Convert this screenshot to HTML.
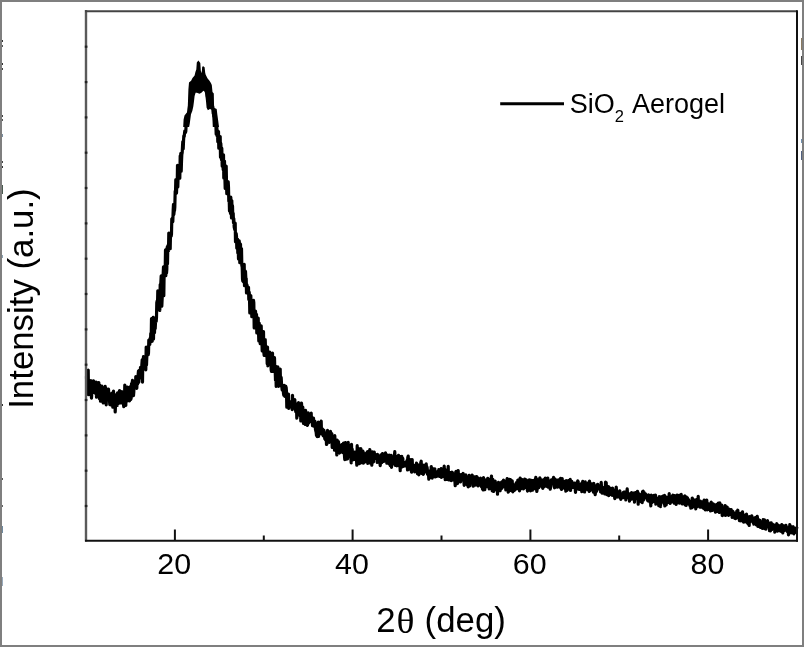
<!DOCTYPE html>
<html><head><meta charset="utf-8"><style>
html,body{margin:0;padding:0;background:#fff;}
body{width:804px;height:647px;overflow:hidden;position:relative;}
#frame{position:absolute;left:0;top:0;width:804px;height:647px;box-sizing:border-box;border:2px solid #7f7f7f;}
svg{position:absolute;left:0;top:0;filter:blur(0.3px);}
text{font-family:"Liberation Sans",sans-serif;fill:#000;}
</style></head><body>
<svg width="804" height="647" viewBox="0 0 804 647">
<path d="M183.2,127 L183.6,119.4 L184.5,115.5 L187.1,112.3 L187.8,106.4 L188.1,98 L188.4,89.5 L189,82.4 L191.1,80.8 L192.5,78.1 L194.6,75.4 L195.4,72.1 L196.3,69.4 L196.8,62.4 L198.4,60.5 L200.3,63 L200.8,70.5 L201.7,73.2 L202.2,66.7 L203.3,66.2 L204.6,67.3 L205.2,72.7 L205.7,74.8 L207.6,78.6 L209.5,80.8 L210.9,83 L211.8,85 L212.5,92.1 L213.8,93.4 L214.1,107.7 L216.7,109 L217.3,114.2 L218.3,121.4 L219,127 L212.8,127 L212.5,120.7 L212.1,114.2 L211.8,109.7 L209.9,109 L207.9,110.3 L206.6,107.7 L206,101.2 L205.3,94.7 L204.7,91.5 L203.4,90.8 L201.4,92.8 L199.5,93.8 L196.9,92.8 L195.6,92.8 L194.6,96 L194,101.2 L193.3,106.4 L192.3,111 L191,114.2 L190.4,118.8 L189.7,124 L189.1,127Z" fill="#000"/>
<polyline points="86.5,376.2 86.8,390.7 87.2,377.0 87.5,387.6 87.8,388.0 88.2,370.0 88.5,394.7 88.8,389.7 89.2,386.0 89.5,392.0 89.8,393.8 90.2,386.7 90.5,390.6 90.8,380.6 91.2,395.0 91.5,398.2 91.8,393.0 92.2,381.7 92.5,385.8 92.8,391.4 93.2,383.6 93.5,380.9 93.8,392.4 94.2,390.7 94.5,381.8 94.8,392.1 95.2,387.6 95.5,391.7 95.8,393.7 96.2,382.0 96.5,397.1 96.8,383.2 97.2,393.3 97.5,388.3 97.8,389.8 98.2,384.0 98.5,386.0 98.8,382.6 99.2,388.3 99.5,398.7 99.8,385.0 100.2,391.6 100.5,401.2 100.8,388.8 101.2,389.6 101.5,396.5 101.8,386.2 102.2,387.6 102.5,396.8 102.8,393.8 103.2,402.9 103.5,392.0 103.8,396.7 104.2,391.6 104.5,397.0 104.8,389.6 105.2,386.3 105.5,397.7 105.8,388.2 106.2,404.8 106.5,396.4 106.8,389.9 107.2,399.4 107.5,395.8 107.8,398.2 108.2,392.8 108.5,389.2 108.8,393.7 109.2,398.1 109.5,400.6 109.8,404.6 110.2,400.0 110.5,397.5 110.8,404.9 111.2,399.6 111.5,400.5 111.8,393.4 112.2,393.3 112.5,392.9 112.8,407.2 113.2,397.2 113.5,391.0 113.8,398.0 114.2,403.9 114.5,395.5 114.8,394.7 115.2,412.0 115.5,404.9 115.8,401.6 116.2,400.8 116.5,395.0 116.8,396.9 117.2,405.4 117.5,392.9 117.8,398.1 118.2,403.7 118.5,393.0 118.8,399.5 119.2,399.8 119.5,390.6 119.8,392.0 120.2,397.6 120.5,403.0 120.8,398.9 121.2,398.4 121.5,403.0 121.8,391.5 122.2,402.9 122.5,399.7 122.8,399.4 123.2,400.2 123.5,404.4 123.8,406.7 124.2,400.9 124.5,399.0 124.8,385.1 125.2,399.6 125.5,401.2 125.8,405.5 126.2,389.2 126.5,394.6 126.8,387.4 127.2,400.9 127.5,387.2 127.8,392.1 128.2,391.1 128.5,391.1 128.8,395.0 129.2,398.0 129.5,400.8 129.8,397.8 130.2,386.8 130.5,386.6 130.8,399.5 131.2,397.8 131.5,383.7 131.8,390.0 132.2,382.7 132.5,380.4 132.8,383.0 133.2,387.8 133.5,395.7 133.8,391.8 134.2,381.9 134.5,383.8 134.8,388.0 135.2,386.6 135.5,385.8 135.8,376.6 136.2,387.7 136.5,387.6 136.8,388.3 137.2,378.6 137.5,384.2 137.8,382.2 138.2,374.1 138.5,371.0 138.8,382.2 139.2,370.4 139.5,378.4 139.8,377.5 140.2,376.7 140.5,367.3 140.8,372.8 141.2,376.1 141.5,369.6 141.8,365.6 142.2,359.9 142.5,382.1 142.8,360.1 143.2,359.8 143.5,356.6 143.8,368.7 144.2,358.2 144.5,365.3 144.8,357.1 145.2,357.8 145.5,361.6 145.8,369.8 146.2,347.0 146.5,365.0 146.8,357.2 147.2,348.9 147.5,347.3 147.8,354.9 148.2,354.7 148.5,353.0 148.8,340.2 149.2,340.0 149.5,342.9 149.8,344.4 150.2,338.0 150.5,340.4 150.8,333.4 151.2,339.5 151.5,318.7 151.8,339.7 152.2,341.3 152.5,322.3 152.8,318.8 153.2,317.3 153.5,339.0 153.8,319.0 154.2,332.7 154.5,332.6 154.8,321.7 155.2,328.7 155.5,322.3 155.8,318.2 156.2,321.4 156.5,317.1 156.8,302.6 157.2,300.8 157.5,305.5 157.8,290.8 158.2,309.3 158.5,302.6 158.8,298.4 159.2,307.3 159.5,297.1 159.8,310.4 160.2,284.6 160.5,306.3 160.8,283.6 161.2,275.8 161.5,290.2 161.8,306.1 162.2,297.7 162.5,287.0 162.8,281.6 163.2,273.3 163.5,266.9 163.8,295.7 164.2,268.6 164.5,271.5 164.8,271.8 165.2,269.9 165.5,249.9 165.8,275.7 166.2,250.8 166.5,273.2 166.8,269.6 167.2,247.0 167.5,263.6 167.8,245.9 168.2,245.1 168.5,250.7 168.8,233.1 169.2,233.7 169.5,248.6 169.8,238.3 170.2,248.6 170.5,233.2 170.8,236.4 171.2,235.9 171.5,233.9 171.8,218.9 172.2,220.0 172.5,218.0 172.8,221.8 173.2,210.1 173.5,204.4 173.8,214.6 174.2,211.0 174.5,210.7 174.8,207.1 175.2,191.0 175.5,194.3 175.8,179.7 176.2,186.7 176.5,193.1 176.8,184.9 177.2,186.6 177.5,165.3 177.8,186.9 178.2,173.0 178.5,168.9 178.8,166.7 179.2,175.3 179.5,171.7 179.8,178.2 180.2,155.9 180.5,161.7 180.8,153.4 181.2,171.2 181.5,161.3 181.8,154.7 182.2,152.5 182.5,146.7 182.8,141.6 183.2,149.0 183.5,141.8 183.8,135.9 184.2,136.7 184.5,133.6 184.8,131.0 185.2,131.7 185.5,132.5 185.8,131.2 186.2,123.6 186.5,124.8 186.8,120.6 187.2,124.4 187.5,120.0 187.8,115.8 188.2,118.4 188.5,113.3 188.8,112.0 189.2,111.3 189.5,106.1 189.8,106.3 190.2,104.5 190.5,102.2 190.8,100.0 191.2,99.0 191.5,96.0 191.8,90.2 192.2,91.8 192.5,92.4 192.8,88.8 193.2,90.7 193.5,89.7 193.8,90.1 194.2,88.0 194.5,88.2 194.8,88.9 195.2,88.5 195.5,87.1 195.8,86.3 196.2,85.8 196.5,86.1 196.8,86.8 197.2,85.5 197.5,86.8 197.8,86.3 198.2,86.9 198.5,83.6 198.8,85.0 199.2,83.6 199.5,84.1 199.8,86.1 200.2,85.1 200.5,85.8 200.8,85.0 201.2,86.1 201.5,85.4 201.8,83.4 202.2,84.2 202.5,85.2 202.8,84.8 203.2,86.2 203.5,85.7 203.8,86.4 204.2,86.4 204.5,87.2 204.8,88.1 205.2,89.4 205.5,89.5 205.8,89.3 206.2,91.5 206.5,89.0 206.8,91.5 207.2,95.6 207.5,97.2 207.8,94.0 208.2,94.9 208.5,96.5 208.8,97.5 209.2,98.7 209.5,99.7 209.8,103.0 210.2,100.2 210.5,101.3 210.8,104.4 211.2,105.0 211.5,106.5 211.8,107.6 212.2,106.9 212.5,105.9 212.8,106.9 213.2,113.4 213.5,110.8 213.8,116.0 214.2,111.8 214.5,116.5 214.8,114.5 215.2,120.4 215.5,120.0 215.8,121.7 216.2,134.2 216.5,128.4 216.8,126.2 217.2,136.1 217.5,130.6 217.8,141.8 218.2,133.2 218.5,131.5 218.8,148.1 219.2,141.9 219.5,146.3 219.8,142.9 220.2,136.5 220.5,157.2 220.8,143.3 221.2,149.8 221.5,159.7 221.8,148.2 222.2,166.2 222.5,154.5 222.8,157.5 223.2,169.8 223.5,154.8 223.8,178.1 224.2,170.1 224.5,161.2 224.8,173.6 225.2,188.5 225.5,175.0 225.8,185.4 226.2,166.2 226.5,183.3 226.8,193.6 227.2,190.7 227.5,189.5 227.8,181.5 228.2,181.9 228.5,187.7 228.8,201.1 229.2,198.7 229.5,211.0 229.8,202.0 230.2,198.1 230.5,213.4 230.8,197.2 231.2,207.4 231.5,218.0 231.8,200.5 232.2,217.1 232.5,205.7 232.8,216.9 233.2,213.3 233.5,222.8 233.8,218.5 234.2,227.1 234.5,228.3 234.8,229.7 235.2,223.2 235.5,241.8 235.8,233.2 236.2,233.6 236.5,236.3 236.8,248.1 237.2,248.5 237.5,239.1 237.8,253.0 238.2,245.0 238.5,258.9 238.8,243.7 239.2,240.8 239.5,244.5 239.8,262.6 240.2,243.8 240.5,244.3 240.8,259.6 241.2,255.3 241.5,248.6 241.8,265.2 242.2,267.3 242.5,278.9 242.8,281.0 243.2,281.2 243.5,281.9 243.8,270.8 244.2,264.3 244.5,285.7 244.8,272.1 245.2,271.0 245.5,271.5 245.8,277.8 246.2,278.6 246.5,293.0 246.8,284.6 247.2,285.8 247.5,293.0 247.8,287.1 248.2,291.3 248.5,287.3 248.8,299.5 249.2,292.1 249.5,296.6 249.8,313.0 250.2,308.1 250.5,304.4 250.8,295.5 251.2,305.6 251.5,302.7 251.8,316.6 252.2,309.1 252.5,301.1 252.8,309.9 253.2,317.0 253.5,300.4 253.8,302.7 254.2,327.9 254.5,327.3 254.8,322.0 255.2,315.1 255.5,311.2 255.8,316.0 256.2,327.9 256.5,314.4 256.8,332.9 257.2,332.2 257.5,320.1 257.8,328.0 258.2,318.0 258.5,330.6 258.8,340.9 259.2,323.0 259.5,330.1 259.8,336.7 260.2,343.6 260.5,334.5 260.8,341.8 261.2,325.8 261.5,338.6 261.8,336.9 262.2,350.9 262.5,346.4 262.8,346.0 263.2,335.9 263.5,331.7 263.8,352.0 264.2,355.5 264.5,345.2 264.8,340.2 265.2,339.6 265.5,348.2 265.8,355.6 266.2,346.5 266.5,351.6 266.8,348.8 267.2,363.7 267.5,347.0 267.8,365.8 268.2,359.8 268.5,360.3 268.8,362.5 269.2,360.1 269.5,363.1 269.8,352.0 270.2,360.4 270.5,364.4 270.8,361.5 271.2,369.9 271.5,371.5 271.8,367.4 272.2,365.0 272.5,353.1 272.8,369.9 273.2,371.4 273.5,370.2 273.8,366.6 274.2,365.0 274.5,357.7 274.8,369.3 275.2,370.5 275.5,380.3 275.8,366.4 276.2,386.4 276.5,383.9 276.8,381.4 277.2,367.9 277.5,375.1 277.8,366.9 278.2,371.1 278.5,386.3 278.8,376.9 279.2,385.8 279.5,382.5 279.8,376.7 280.2,369.0 280.5,384.4 280.8,376.7 281.2,377.8 281.5,383.5 281.8,386.3 282.2,390.1 282.5,389.7 282.8,389.2 283.2,388.9 283.5,393.5 283.8,395.3 284.2,385.3 284.5,388.5 284.8,396.3 285.2,395.3 285.5,389.2 285.8,386.4 286.2,387.8 286.5,391.8 286.8,407.2 287.2,401.9 287.5,397.5 287.8,401.2 288.2,400.6 288.5,394.2 288.8,408.5 289.2,401.7 289.5,403.4 289.8,402.0 290.2,401.9 290.5,404.2 290.8,404.9 291.2,403.1 291.5,404.6 291.8,403.7 292.2,409.7 292.5,395.3 292.8,404.8 293.2,401.9 293.5,402.5 293.8,407.6 294.2,406.0 294.5,408.2 294.8,399.7 295.2,407.8 295.5,409.6 295.8,411.9 296.2,405.1 296.5,404.1 296.8,418.2 297.2,412.6 297.5,407.1 297.8,406.2 298.2,411.9 298.5,402.7 298.8,410.6 299.2,414.8 299.5,411.7 299.8,407.2 300.2,416.1 300.5,407.1 300.8,420.9 301.2,406.5 301.5,403.1 301.8,407.8 302.2,417.5 302.5,415.2 302.8,407.1 303.2,413.3 303.5,423.4 303.8,415.8 304.2,412.3 304.5,412.2 304.8,413.9 305.2,424.4 305.5,410.4 305.8,412.0 306.2,415.2 306.5,424.2 306.8,422.0 307.2,425.3 307.5,425.1 307.8,420.2 308.2,412.8 308.5,423.1 308.8,421.8 309.2,415.3 309.5,419.8 309.8,416.0 310.2,419.2 310.5,419.7 310.8,419.1 311.2,413.0 311.5,422.0 311.8,421.5 312.2,420.0 312.5,425.6 312.8,424.2 313.2,421.7 313.5,418.1 313.8,426.2 314.2,422.8 314.5,423.2 314.8,421.0 315.2,424.8 315.5,429.7 315.8,430.8 316.2,432.5 316.5,435.5 316.8,431.5 317.2,436.6 317.5,431.0 317.8,430.8 318.2,422.0 318.5,436.5 318.8,433.9 319.2,426.5 319.5,429.6 319.8,422.3 320.2,430.0 320.5,431.1 320.8,426.2 321.2,421.2 321.5,433.9 321.8,428.8 322.2,428.8 322.5,429.0 322.8,429.8 323.2,435.9 323.5,434.2 323.8,430.0 324.2,434.4 324.5,435.3 324.8,438.8 325.2,437.6 325.5,439.9 325.8,433.2 326.2,435.1 326.5,444.5 326.8,444.1 327.2,435.3 327.5,430.3 327.8,438.5 328.2,438.7 328.5,432.9 328.8,432.4 329.2,442.3 329.5,441.7 329.8,441.2 330.2,441.2 330.5,431.4 330.8,435.5 331.2,437.0 331.5,441.5 331.8,433.6 332.2,447.4 332.5,436.9 332.8,439.5 333.2,446.9 333.5,438.7 333.8,443.2 334.2,439.7 334.5,450.1 334.8,435.7 335.2,446.2 335.5,444.8 335.8,444.5 336.2,443.2 336.5,446.9 336.8,454.9 337.2,440.1 337.5,450.4 337.8,446.4 338.2,447.8 338.5,441.7 338.8,449.0 339.2,453.2 339.5,452.9 339.8,452.7 340.2,446.3 340.5,449.6 340.8,452.0 341.2,451.2 341.5,445.9 341.8,444.5 342.2,450.1 342.5,450.7 342.8,452.6 343.2,450.2 343.5,443.1 343.8,444.7 344.2,447.2 344.5,456.0 344.8,459.6 345.2,445.4 345.5,442.5 345.8,448.7 346.2,459.0 346.5,459.1 346.8,444.1 347.2,456.6 347.5,458.8 347.8,454.2 348.2,442.3 348.5,456.3 348.8,450.0 349.2,445.9 349.5,452.4 349.8,447.5 350.2,450.9 350.5,455.4 350.8,457.2 351.2,462.9 351.5,444.3 351.8,454.5 352.2,449.1 352.5,456.2 352.8,456.3 353.2,455.9 353.5,454.5 353.8,459.6 354.2,456.3 354.5,456.7 354.8,452.1 355.2,456.5 355.5,457.8 355.8,458.1 356.2,460.3 356.5,459.9 356.8,465.1 357.2,445.7 357.5,452.4 357.8,459.0 358.2,448.1 358.5,453.3 358.8,454.0 359.2,459.1 359.5,463.7 359.8,452.3 360.2,457.5 360.5,453.2 360.8,448.5 361.2,453.3 361.5,462.6 361.8,454.7 362.2,452.7 362.5,455.8 362.8,451.0 363.2,452.0 363.5,463.2 363.8,460.3 364.2,458.0 364.5,453.6 364.8,460.6 365.2,461.2 365.5,460.3 365.8,461.8 366.2,459.1 366.5,457.6 366.8,452.7 367.2,460.4 367.5,451.5 367.8,463.5 368.2,457.8 368.5,456.4 368.8,458.2 369.2,458.8 369.5,453.8 369.8,449.6 370.2,457.5 370.5,463.1 370.8,457.8 371.2,455.1 371.5,455.3 371.8,465.2 372.2,451.9 372.5,453.7 372.8,462.3 373.2,455.2 373.5,462.0 373.8,453.9 374.2,452.0 374.5,455.2 374.8,453.8 375.2,455.2 375.5,456.5 375.8,454.8 376.2,456.1 376.5,459.0 376.8,456.0 377.2,462.4 377.5,454.4 377.8,458.7 378.2,458.8 378.5,461.8 378.8,461.8 379.2,456.6 379.5,460.2 379.8,461.6 380.2,465.6 380.5,460.8 380.8,454.9 381.2,454.9 381.5,458.5 381.8,462.6 382.2,457.6 382.5,453.6 382.8,455.0 383.2,455.0 383.5,461.4 383.8,460.5 384.2,458.0 384.5,459.0 384.8,460.0 385.2,458.1 385.5,452.9 385.8,461.3 386.2,460.2 386.5,454.7 386.8,463.1 387.2,459.6 387.5,458.5 387.8,455.4 388.2,458.8 388.5,461.1 388.8,463.7 389.2,455.1 389.5,460.0 389.8,462.8 390.2,465.6 390.5,456.9 390.8,459.3 391.2,455.3 391.5,467.3 391.8,464.2 392.2,456.9 392.5,463.5 392.8,458.7 393.2,458.0 393.5,456.8 393.8,463.6 394.2,459.7 394.5,454.8 394.8,451.7 395.2,465.3 395.5,464.6 395.8,464.7 396.2,464.4 396.5,456.7 396.8,465.8 397.2,459.1 397.5,462.0 397.8,459.5 398.2,456.4 398.5,455.3 398.8,464.1 399.2,465.8 399.5,465.6 399.8,460.5 400.2,470.7 400.5,456.7 400.8,458.1 401.2,467.4 401.5,461.1 401.8,456.3 402.2,466.8 402.5,463.3 402.8,458.4 403.2,466.5 403.5,466.0 403.8,464.7 404.2,466.0 404.5,463.5 404.8,465.1 405.2,462.5 405.5,466.0 405.8,462.3 406.2,464.7 406.5,461.7 406.8,463.3 407.2,460.1 407.5,470.0 407.8,457.5 408.2,456.1 408.5,462.1 408.8,469.3 409.2,466.4 409.5,463.6 409.8,461.7 410.2,463.2 410.5,468.6 410.8,459.6 411.2,469.4 411.5,472.2 411.8,471.8 412.2,459.5 412.5,468.2 412.8,471.0 413.2,467.3 413.5,465.1 413.8,470.2 414.2,469.2 414.5,470.4 414.8,471.8 415.2,465.8 415.5,471.1 415.8,468.3 416.2,466.6 416.5,463.1 416.8,465.5 417.2,464.4 417.5,473.7 417.8,471.7 418.2,466.5 418.5,465.1 418.8,474.8 419.2,468.2 419.5,471.1 419.8,465.4 420.2,465.1 420.5,467.5 420.8,462.4 421.2,461.2 421.5,473.3 421.8,466.1 422.2,470.3 422.5,464.8 422.8,465.3 423.2,474.3 423.5,473.9 423.8,466.1 424.2,465.9 424.5,470.5 424.8,465.1 425.2,470.7 425.5,466.2 425.8,471.9 426.2,463.8 426.5,469.4 426.8,466.7 427.2,468.0 427.5,474.1 427.8,472.8 428.2,473.6 428.5,473.6 428.8,479.1 429.2,477.2 429.5,473.3 429.8,470.8 430.2,473.7 430.5,477.4 430.8,477.1 431.2,466.5 431.5,468.6 431.8,473.5 432.2,478.2 432.5,471.7 432.8,468.6 433.2,470.9 433.5,471.9 433.8,472.5 434.2,475.7 434.5,469.4 434.8,468.9 435.2,476.9 435.5,475.0 435.8,475.3 436.2,473.8 436.5,474.0 436.8,476.4 437.2,474.6 437.5,473.1 437.8,471.5 438.2,471.3 438.5,473.4 438.8,469.6 439.2,471.6 439.5,476.3 439.8,475.0 440.2,472.9 440.5,474.0 440.8,471.3 441.2,468.7 441.5,477.4 441.8,475.2 442.2,473.0 442.5,475.0 442.8,476.5 443.2,476.3 443.5,470.8 443.8,472.4 444.2,466.2 444.5,474.0 444.8,470.0 445.2,479.6 445.5,472.0 445.8,471.4 446.2,470.2 446.5,472.4 446.8,472.5 447.2,479.5 447.5,477.6 447.8,474.4 448.2,466.3 448.5,477.8 448.8,479.9 449.2,477.1 449.5,479.9 449.8,472.4 450.2,475.4 450.5,478.0 450.8,475.3 451.2,480.6 451.5,473.7 451.8,474.3 452.2,472.2 452.5,478.4 452.8,479.9 453.2,478.3 453.5,475.0 453.8,476.7 454.2,474.0 454.5,477.1 454.8,479.0 455.2,485.7 455.5,483.4 455.8,471.7 456.2,471.4 456.5,481.6 456.8,475.2 457.2,483.4 457.5,483.5 457.8,474.9 458.2,470.6 458.5,477.6 458.8,480.1 459.2,481.6 459.5,474.4 459.8,478.8 460.2,480.3 460.5,481.9 460.8,475.0 461.2,479.7 461.5,479.9 461.8,474.3 462.2,475.3 462.5,477.9 462.8,475.1 463.2,473.5 463.5,479.7 463.8,480.6 464.2,485.3 464.5,476.1 464.8,477.7 465.2,483.8 465.5,480.4 465.8,474.9 466.2,484.1 466.5,478.9 466.8,479.0 467.2,482.6 467.5,485.4 467.8,481.3 468.2,486.9 468.5,481.8 468.8,477.1 469.2,475.3 469.5,482.3 469.8,485.9 470.2,478.7 470.5,482.8 470.8,476.5 471.2,477.1 471.5,478.9 471.8,479.5 472.2,475.2 472.5,477.8 472.8,477.1 473.2,486.2 473.5,477.2 473.8,478.3 474.2,479.7 474.5,479.6 474.8,476.8 475.2,485.2 475.5,479.6 475.8,483.6 476.2,476.5 476.5,485.0 476.8,476.5 477.2,481.2 477.5,477.7 477.8,481.4 478.2,486.0 478.5,480.8 478.8,483.7 479.2,482.5 479.5,482.3 479.8,481.5 480.2,485.0 480.5,478.0 480.8,480.4 481.2,478.9 481.5,486.6 481.8,483.5 482.2,485.4 482.5,489.1 482.8,481.1 483.2,490.0 483.5,477.6 483.8,485.4 484.2,481.3 484.5,488.1 484.8,489.7 485.2,483.5 485.5,485.9 485.8,481.9 486.2,479.8 486.5,479.9 486.8,484.7 487.2,486.6 487.5,480.5 487.8,478.3 488.2,485.8 488.5,479.4 488.8,479.6 489.2,488.9 489.5,484.6 489.8,483.9 490.2,486.4 490.5,482.3 490.8,484.7 491.2,478.5 491.5,476.0 491.8,485.6 492.2,491.0 492.5,481.6 492.8,479.3 493.2,486.5 493.5,491.5 493.8,491.2 494.2,484.4 494.5,486.2 494.8,490.0 495.2,481.0 495.5,486.7 495.8,488.2 496.2,488.2 496.5,483.5 496.8,483.8 497.2,483.9 497.5,494.1 497.8,484.0 498.2,484.7 498.5,482.4 498.8,488.4 499.2,489.3 499.5,483.1 499.8,489.9 500.2,490.7 500.5,484.2 500.8,485.1 501.2,488.0 501.5,482.1 501.8,488.5 502.2,481.7 502.5,484.8 502.8,482.5 503.2,487.0 503.5,480.0 503.8,486.5 504.2,484.7 504.5,481.8 504.8,484.2 505.2,486.0 505.5,481.2 505.8,490.0 506.2,481.5 506.5,487.8 506.8,480.6 507.2,478.5 507.5,481.2 507.8,485.3 508.2,492.2 508.5,487.1 508.8,491.5 509.2,483.1 509.5,479.4 509.8,481.2 510.2,485.4 510.5,479.5 510.8,482.7 511.2,490.5 511.5,484.9 511.8,488.5 512.2,480.8 512.5,487.5 512.8,491.9 513.2,485.3 513.5,484.7 513.8,487.8 514.2,487.1 514.5,490.3 514.8,489.0 515.2,488.6 515.5,484.9 515.8,485.2 516.2,482.9 516.5,489.0 516.8,485.2 517.2,484.5 517.5,485.3 517.8,480.0 518.2,487.0 518.5,486.9 518.8,484.9 519.2,479.9 519.5,490.8 519.8,480.7 520.2,478.0 520.5,486.1 520.8,488.9 521.2,485.9 521.5,485.7 521.8,483.0 522.2,479.5 522.5,481.0 522.8,481.2 523.2,484.0 523.5,489.0 523.8,483.0 524.2,488.0 524.5,481.6 524.8,479.0 525.2,481.9 525.5,482.5 525.8,487.3 526.2,479.8 526.5,487.3 526.8,487.2 527.2,488.9 527.5,491.1 527.8,490.5 528.2,482.3 528.5,485.7 528.8,488.9 529.2,479.8 529.5,480.8 529.8,480.4 530.2,482.2 530.5,490.8 530.8,480.1 531.2,483.7 531.5,482.2 531.8,486.3 532.2,480.6 532.5,490.2 532.8,480.5 533.2,489.0 533.5,486.2 533.8,480.3 534.2,485.0 534.5,483.4 534.8,486.1 535.2,488.8 535.5,479.8 535.8,477.4 536.2,483.0 536.5,478.9 536.8,491.5 537.2,489.0 537.5,483.2 537.8,486.6 538.2,482.6 538.5,485.4 538.8,487.7 539.2,479.3 539.5,486.0 539.8,477.8 540.2,478.8 540.5,479.9 540.8,485.0 541.2,479.9 541.5,481.9 541.8,484.0 542.2,487.3 542.5,484.6 542.8,488.5 543.2,479.8 543.5,481.4 543.8,483.1 544.2,486.6 544.5,480.5 544.8,484.2 545.2,478.0 545.5,484.6 545.8,483.8 546.2,482.2 546.5,483.5 546.8,486.3 547.2,481.5 547.5,480.1 547.8,478.1 548.2,487.2 548.5,486.3 548.8,483.9 549.2,486.6 549.5,483.5 549.8,481.0 550.2,489.1 550.5,487.9 550.8,485.5 551.2,483.1 551.5,479.9 551.8,480.7 552.2,483.3 552.5,480.9 552.8,482.4 553.2,482.2 553.5,477.3 553.8,478.4 554.2,486.2 554.5,487.8 554.8,483.0 555.2,479.2 555.5,486.4 555.8,483.4 556.2,483.5 556.5,483.7 556.8,485.5 557.2,487.1 557.5,481.5 557.8,480.1 558.2,480.0 558.5,483.2 558.8,485.4 559.2,486.0 559.5,482.6 559.8,487.2 560.2,485.6 560.5,478.4 560.8,480.5 561.2,488.5 561.5,489.4 561.8,487.6 562.2,478.6 562.5,487.8 562.8,486.5 563.2,483.4 563.5,486.0 563.8,482.5 564.2,488.2 564.5,482.8 564.8,481.5 565.2,485.5 565.5,485.3 565.8,491.2 566.2,480.7 566.5,489.6 566.8,484.5 567.2,490.3 567.5,489.8 567.8,487.8 568.2,480.6 568.5,484.2 568.8,485.6 569.2,482.0 569.5,486.5 569.8,486.5 570.2,479.4 570.5,490.4 570.8,488.4 571.2,487.3 571.5,487.8 571.8,481.4 572.2,486.2 572.5,485.3 572.8,483.0 573.2,484.8 573.5,485.6 573.8,487.5 574.2,485.6 574.5,483.1 574.8,487.5 575.2,488.6 575.5,492.4 575.8,485.9 576.2,488.3 576.5,485.3 576.8,482.8 577.2,488.8 577.5,481.7 577.8,481.0 578.2,481.7 578.5,489.1 578.8,485.8 579.2,489.5 579.5,488.0 579.8,488.3 580.2,487.4 580.5,486.4 580.8,485.6 581.2,483.9 581.5,484.2 581.8,491.6 582.2,482.5 582.5,483.5 582.8,481.3 583.2,487.7 583.5,485.1 583.8,484.3 584.2,484.5 584.5,492.0 584.8,490.8 585.2,481.8 585.5,483.8 585.8,484.0 586.2,486.3 586.5,486.3 586.8,487.7 587.2,484.4 587.5,483.7 587.8,489.7 588.2,483.3 588.5,482.8 588.8,489.7 589.2,491.4 589.5,481.1 589.8,489.4 590.2,490.6 590.5,487.1 590.8,484.0 591.2,487.4 591.5,487.0 591.8,483.8 592.2,485.2 592.5,484.5 592.8,487.3 593.2,490.5 593.5,492.2 593.8,483.3 594.2,489.1 594.5,485.7 594.8,492.6 595.2,494.6 595.5,491.8 595.8,486.9 596.2,488.1 596.5,491.3 596.8,486.6 597.2,484.8 597.5,487.8 597.8,484.3 598.2,488.0 598.5,486.2 598.8,486.4 599.2,486.8 599.5,487.5 599.8,489.7 600.2,489.7 600.5,491.9 600.8,489.6 601.2,482.4 601.5,486.8 601.8,490.0 602.2,493.2 602.5,492.3 602.8,487.6 603.2,488.2 603.5,490.1 603.8,487.7 604.2,491.6 604.5,490.5 604.8,494.0 605.2,488.8 605.5,482.2 605.8,491.7 606.2,482.6 606.5,490.0 606.8,494.6 607.2,494.1 607.5,489.8 607.8,492.2 608.2,491.8 608.5,486.6 608.8,495.6 609.2,488.7 609.5,487.7 609.8,488.9 610.2,488.2 610.5,488.3 610.8,494.3 611.2,492.8 611.5,491.8 611.8,490.0 612.2,495.4 612.5,488.0 612.8,491.3 613.2,489.7 613.5,490.5 613.8,493.8 614.2,493.0 614.5,495.6 614.8,498.7 615.2,492.8 615.5,496.2 615.8,496.0 616.2,487.0 616.5,490.5 616.8,495.9 617.2,497.1 617.5,496.6 617.8,492.4 618.2,492.0 618.5,494.1 618.8,491.6 619.2,496.7 619.5,494.1 619.8,490.9 620.2,498.2 620.5,495.0 620.8,499.5 621.2,494.2 621.5,495.0 621.8,496.8 622.2,496.7 622.5,494.1 622.8,494.4 623.2,492.5 623.5,497.6 623.8,492.0 624.2,495.2 624.5,492.2 624.8,495.9 625.2,493.9 625.5,492.0 625.8,499.9 626.2,497.7 626.5,496.3 626.8,493.1 627.2,488.9 627.5,493.9 627.8,497.5 628.2,496.5 628.5,495.7 628.8,495.6 629.2,493.9 629.5,501.1 629.8,494.0 630.2,495.5 630.5,499.0 630.8,493.5 631.2,497.3 631.5,492.5 631.8,499.1 632.2,493.7 632.5,496.9 632.8,497.8 633.2,494.7 633.5,493.1 633.8,497.8 634.2,495.8 634.5,502.1 634.8,496.4 635.2,495.3 635.5,492.5 635.8,497.8 636.2,497.4 636.5,498.6 636.8,494.3 637.2,495.9 637.5,491.4 637.8,492.5 638.2,504.2 638.5,493.3 638.8,496.3 639.2,501.1 639.5,494.0 639.8,498.5 640.2,499.1 640.5,498.1 640.8,496.6 641.2,501.8 641.5,495.6 641.8,498.7 642.2,502.6 642.5,491.7 642.8,497.9 643.2,491.2 643.5,500.1 643.8,495.7 644.2,492.5 644.5,496.2 644.8,493.7 645.2,497.6 645.5,493.8 645.8,497.6 646.2,497.1 646.5,498.1 646.8,495.4 647.2,499.7 647.5,499.9 647.8,500.8 648.2,495.1 648.5,496.3 648.8,495.0 649.2,496.4 649.5,501.4 649.8,496.7 650.2,502.7 650.5,500.9 650.8,505.9 651.2,495.2 651.5,501.1 651.8,502.6 652.2,495.6 652.5,495.8 652.8,501.4 653.2,501.7 653.5,501.5 653.8,500.0 654.2,495.4 654.5,497.9 654.8,496.4 655.2,501.7 655.5,495.1 655.8,504.1 656.2,497.9 656.5,500.9 656.8,501.5 657.2,503.0 657.5,503.5 657.8,499.3 658.2,502.5 658.5,503.5 658.8,505.7 659.2,496.7 659.5,502.9 659.8,506.0 660.2,502.9 660.5,506.7 660.8,496.9 661.2,500.5 661.5,501.8 661.8,498.9 662.2,501.5 662.5,501.1 662.8,496.2 663.2,500.6 663.5,500.3 663.8,502.9 664.2,503.6 664.5,495.4 664.8,506.0 665.2,504.8 665.5,503.5 665.8,501.5 666.2,504.9 666.5,497.0 666.8,500.2 667.2,500.0 667.5,502.6 667.8,498.7 668.2,500.4 668.5,498.5 668.8,500.8 669.2,493.6 669.5,501.0 669.8,498.6 670.2,503.5 670.5,499.5 670.8,500.7 671.2,501.1 671.5,499.6 671.8,501.9 672.2,497.1 672.5,495.7 672.8,495.2 673.2,500.6 673.5,499.9 673.8,496.9 674.2,503.1 674.5,498.4 674.8,495.5 675.2,500.9 675.5,499.0 675.8,499.5 676.2,504.5 676.5,498.3 676.8,499.0 677.2,495.2 677.5,500.8 677.8,498.0 678.2,502.4 678.5,495.8 678.8,496.5 679.2,495.3 679.5,503.2 679.8,497.4 680.2,499.0 680.5,502.6 680.8,501.4 681.2,494.4 681.5,502.5 681.8,502.9 682.2,503.9 682.5,496.5 682.8,498.0 683.2,501.9 683.5,503.0 683.8,500.4 684.2,503.7 684.5,502.9 684.8,495.8 685.2,504.9 685.5,502.1 685.8,503.4 686.2,505.5 686.5,497.1 686.8,497.8 687.2,504.0 687.5,497.8 687.8,500.6 688.2,501.6 688.5,499.5 688.8,501.7 689.2,504.5 689.5,503.9 689.8,503.8 690.2,506.5 690.5,501.9 690.8,508.1 691.2,500.9 691.5,501.5 691.8,508.0 692.2,498.0 692.5,499.2 692.8,499.2 693.2,507.0 693.5,500.8 693.8,500.2 694.2,502.5 694.5,500.0 694.8,504.9 695.2,500.5 695.5,502.6 695.8,508.8 696.2,506.7 696.5,502.3 696.8,499.4 697.2,506.5 697.5,505.4 697.8,506.3 698.2,496.4 698.5,505.6 698.8,501.8 699.2,506.4 699.5,504.4 699.8,507.2 700.2,507.0 700.5,501.2 700.8,503.5 701.2,507.1 701.5,504.3 701.8,503.8 702.2,505.1 702.5,507.3 702.8,504.0 703.2,501.7 703.5,508.3 703.8,503.8 704.2,500.0 704.5,503.0 704.8,503.9 705.2,509.8 705.5,509.1 705.8,502.3 706.2,500.8 706.5,504.0 706.8,500.2 707.2,509.8 707.5,505.7 707.8,508.3 708.2,503.6 708.5,509.5 708.8,508.9 709.2,504.5 709.5,505.4 709.8,508.8 710.2,503.9 710.5,510.9 710.8,509.4 711.2,502.2 711.5,508.5 711.8,508.5 712.2,505.0 712.5,510.5 712.8,506.2 713.2,505.1 713.5,504.0 713.8,506.0 714.2,505.9 714.5,505.8 714.8,509.3 715.2,510.4 715.5,512.1 715.8,506.8 716.2,507.7 716.5,504.5 716.8,506.9 717.2,507.5 717.5,511.3 717.8,511.1 718.2,503.0 718.5,503.0 718.8,510.6 719.2,512.5 719.5,509.7 719.8,502.8 720.2,507.9 720.5,506.2 720.8,507.9 721.2,511.3 721.5,510.3 721.8,505.2 722.2,515.5 722.5,515.6 722.8,509.2 723.2,514.1 723.5,508.1 723.8,509.0 724.2,510.7 724.5,512.0 724.8,510.6 725.2,505.5 725.5,515.5 725.8,513.1 726.2,512.0 726.5,511.4 726.8,513.1 727.2,507.1 727.5,513.1 727.8,513.9 728.2,512.6 728.5,515.3 728.8,514.6 729.2,509.8 729.5,509.3 729.8,514.5 730.2,512.2 730.5,511.2 730.8,512.5 731.2,509.7 731.5,514.5 731.8,512.7 732.2,517.5 732.5,511.8 732.8,511.3 733.2,514.9 733.5,512.5 733.8,513.3 734.2,515.5 734.5,514.7 734.8,518.4 735.2,515.1 735.5,518.7 735.8,518.1 736.2,513.0 736.5,516.4 736.8,511.0 737.2,513.0 737.5,511.3 737.8,510.2 738.2,514.2 738.5,517.3 738.8,518.5 739.2,519.2 739.5,520.7 739.8,516.1 740.2,520.2 740.5,513.3 740.8,520.8 741.2,515.2 741.5,516.0 741.8,518.8 742.2,512.9 742.5,511.8 742.8,516.3 743.2,519.1 743.5,522.1 743.8,519.7 744.2,519.7 744.5,521.6 744.8,515.0 745.2,521.8 745.5,519.5 745.8,515.7 746.2,521.1 746.5,514.2 746.8,520.3 747.2,518.9 747.5,523.2 747.8,517.4 748.2,524.0 748.5,519.8 748.8,516.9 749.2,525.5 749.5,516.6 749.8,517.6 750.2,521.7 750.5,516.9 750.8,520.0 751.2,519.6 751.5,517.6 751.8,515.8 752.2,519.5 752.5,521.0 752.8,518.8 753.2,522.8 753.5,518.2 753.8,524.1 754.2,520.2 754.5,518.6 754.8,523.1 755.2,522.1 755.5,517.6 755.8,522.6 756.2,524.8 756.5,524.1 756.8,517.5 757.2,516.3 757.5,518.4 757.8,526.3 758.2,519.4 758.5,522.9 758.8,521.4 759.2,526.6 759.5,523.3 759.8,520.4 760.2,521.8 760.5,527.5 760.8,521.8 761.2,524.5 761.5,524.5 761.8,526.7 762.2,522.3 762.5,528.3 762.8,524.8 763.2,519.6 763.5,524.9 763.8,525.7 764.2,525.3 764.5,519.8 764.8,528.7 765.2,523.8 765.5,525.3 765.8,529.2 766.2,527.4 766.5,525.4 766.8,525.0 767.2,525.3 767.5,520.6 767.8,525.2 768.2,526.3 768.5,525.4 768.8,526.2 769.2,523.1 769.5,530.6 769.8,528.0 770.2,525.2 770.5,530.9 770.8,528.6 771.2,522.8 771.5,524.4 771.8,529.4 772.2,528.9 772.5,524.2 772.8,526.4 773.2,528.0 773.5,527.3 773.8,526.9 774.2,529.5 774.5,525.2 774.8,532.1 775.2,528.8 775.5,530.2 775.8,530.8 776.2,528.8 776.5,524.8 776.8,523.7 777.2,530.3 777.5,531.0 777.8,525.0 778.2,525.8 778.5,529.2 778.8,530.0 779.2,530.5 779.5,527.2 779.8,525.8 780.2,530.5 780.5,528.7 780.8,531.2 781.2,531.4 781.5,526.7 781.8,524.7 782.2,528.7 782.5,531.6 782.8,532.9 783.2,529.4 783.5,525.8 783.8,530.8 784.2,529.3 784.5,528.5 784.8,526.6 785.2,530.2 785.5,526.3 785.8,525.3 786.2,526.1 786.5,530.0 786.8,529.5 787.2,531.4 787.5,529.2 787.8,527.7 788.2,530.7 788.5,534.8 788.8,533.0 789.2,529.1 789.5,529.0 789.8,524.7 790.2,529.5 790.5,526.7 790.8,527.8 791.2,532.8 791.5,530.7 791.8,527.2 792.2,529.7 792.5,529.2 792.8,527.4 793.2,526.8 793.5,529.4 793.8,533.9 794.2,531.6 794.5,530.6 794.8,528.6 795.2,532.4 795.5,531.0 795.8,530.1 796.2,531.3 796.5,528.8 796.8,526.8" fill="none" stroke="#000" stroke-width="3.2" stroke-linejoin="round"/>
<line x1="86" y1="10" x2="86" y2="541.5" stroke="#5a5a5a" stroke-width="2.4"/>
<line x1="85" y1="11.3" x2="797" y2="11.3" stroke="#444" stroke-width="2"/>
<line x1="797" y1="10.3" x2="797" y2="541.7" stroke="#111" stroke-width="2"/>
<line x1="85" y1="540.7" x2="798" y2="540.7" stroke="#111" stroke-width="2"/>
<rect x="84.8" y="45.6" width="2.6" height="2.2" fill="#222"/><rect x="84.8" y="81.0" width="2.6" height="2.2" fill="#222"/><rect x="84.8" y="116.3" width="2.6" height="2.2" fill="#222"/><rect x="84.8" y="151.6" width="2.6" height="2.2" fill="#222"/><rect x="84.8" y="186.9" width="2.6" height="2.2" fill="#222"/><rect x="84.8" y="222.3" width="2.6" height="2.2" fill="#222"/><rect x="84.8" y="257.6" width="2.6" height="2.2" fill="#222"/><rect x="84.8" y="292.9" width="2.6" height="2.2" fill="#222"/><rect x="84.8" y="328.3" width="2.6" height="2.2" fill="#222"/><rect x="84.8" y="363.6" width="2.6" height="2.2" fill="#222"/><rect x="84.8" y="398.9" width="2.6" height="2.2" fill="#222"/><rect x="84.8" y="434.3" width="2.6" height="2.2" fill="#222"/><rect x="84.8" y="469.6" width="2.6" height="2.2" fill="#222"/><rect x="84.8" y="504.9" width="2.6" height="2.2" fill="#222"/>
<line x1="174.9" y1="541" x2="174.9" y2="529.5" stroke="#111" stroke-width="2"/><line x1="352.6" y1="541" x2="352.6" y2="529.5" stroke="#111" stroke-width="2"/><line x1="530.4" y1="541" x2="530.4" y2="529.5" stroke="#111" stroke-width="2"/><line x1="708.1" y1="541" x2="708.1" y2="529.5" stroke="#111" stroke-width="2"/><line x1="263.8" y1="541" x2="263.8" y2="535.5" stroke="#111" stroke-width="2"/><line x1="441.5" y1="541" x2="441.5" y2="535.5" stroke="#111" stroke-width="2"/><line x1="619.2" y1="541" x2="619.2" y2="535.5" stroke="#111" stroke-width="2"/>
<text x="174.2" y="574.1" text-anchor="middle" font-size="30.4">20</text><text x="351.9" y="574.1" text-anchor="middle" font-size="30.4">40</text><text x="529.7" y="574.1" text-anchor="middle" font-size="30.4">60</text><text x="707.4" y="574.1" text-anchor="middle" font-size="30.4">80</text>
<text x="0" y="0" font-size="34.8" transform="translate(32.6,408.8) rotate(-90)">Intensity (a.u.)</text>
<text x="376.2" y="632.2" font-size="34.8">2</text><text x="0" y="0" transform="translate(396.4,633.2) scale(1.07,1)" font-size="35" style="font-family:'Liberation Serif',serif">θ</text><text x="424.6" y="632.2" font-size="34.8">(deg)</text>
<line x1="500.2" y1="103.8" x2="564" y2="103.8" stroke="#000" stroke-width="3"/>
<text x="569.8" y="112.6" font-size="27">SiO<tspan font-size="16.5" dy="9.2">2</tspan><tspan dy="-9.2" dx="1.9"> Aerogel</tspan></text>
</svg>
<div id="frame"></div>
<div style="position:absolute;left:801px;top:38px;width:1px;height:12px;background:#8a7a60"></div><div style="position:absolute;left:801px;top:56px;width:1px;height:9px;background:#444"></div><div style="position:absolute;left:801px;top:139px;width:1px;height:4px;background:#7090b0"></div><div style="position:absolute;left:801px;top:151px;width:1px;height:9px;background:#506080"></div><div style="position:absolute;left:2px;top:40px;width:1px;height:2px;background:#333"></div><div style="position:absolute;left:2px;top:45px;width:1px;height:2px;background:#555"></div><div style="position:absolute;left:2px;top:63px;width:1px;height:2px;background:#333"></div><div style="position:absolute;left:2px;top:68px;width:1px;height:2px;background:#444"></div><div style="position:absolute;left:2px;top:115px;width:1px;height:2px;background:#444"></div><div style="position:absolute;left:2px;top:119px;width:1px;height:2px;background:#555"></div><div style="position:absolute;left:2px;top:134px;width:1px;height:3px;background:#7a8ea0"></div><div style="position:absolute;left:2px;top:161px;width:1px;height:2px;background:#444"></div><div style="position:absolute;left:2px;top:166px;width:1px;height:2px;background:#333"></div><div style="position:absolute;left:2px;top:185px;width:1px;height:9px;background:#4a5a50"></div><div style="position:absolute;left:2px;top:255px;width:1px;height:3px;background:#8aa0b0"></div><div style="position:absolute;left:2px;top:404px;width:1px;height:2px;background:#333"></div><div style="position:absolute;left:2px;top:478px;width:1px;height:2px;background:#555"></div><div style="position:absolute;left:2px;top:505px;width:1px;height:2px;background:#666"></div><div style="position:absolute;left:2px;top:526px;width:1px;height:7px;background:#6f8aa0"></div><div style="position:absolute;left:2px;top:577px;width:1px;height:9px;background:#9ab"></div>
</body></html>
